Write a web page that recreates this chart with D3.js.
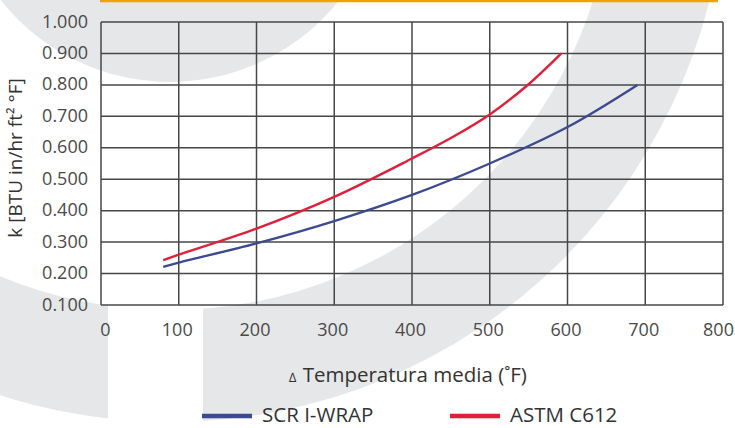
<!DOCTYPE html>
<meta charset="utf-8">
<head>
<style>
  body { margin: 0; background: #fff; }
  svg { display: block; font-family: "Open Sans", "Noto Sans", sans-serif; }
</style>
</head>
<body>
  <script src="https://d3js.org/d3.v7.min.js"></script>

  <script>
    // values
    var xTicks = [0, 100, 200, 300, 400, 500, 600, 700, 800];
    var yTicks = [0.1, 0.2, 0.3, 0.4, 0.5, 0.6, 0.7, 0.8, 0.9, 1.0];

    var scrTemp = [80, 100, 200, 300, 400, 500, 600, 690];
    var scrK    = [0.221, 0.235, 0.296, 0.367, 0.450, 0.550, 0.666, 0.800];

    var astmTemp = [80, 100, 200, 300, 400, 450, 500, 550, 592];
    var astmK    = [0.243, 0.260, 0.343, 0.444, 0.566, 0.631, 0.706, 0.802, 0.900];

    var seriesNames = ["SCR I-WRAP", "ASTM C612"];
    var seriesColors = ["#3d4990", "#e01f3a"];

    var width = 735,
      height = 428;

    var svg = d3.select("body")
      .append("svg")
      .attr("width", width)
      .attr("height", height);

    // decorative background ring (logo watermark)
    var bg = svg.append("g").attr("class", "background");
    var ringCenter = [170, -134];

    bg.append("path")
      .attr("transform", "translate(" + ringCenter + ")")
      .attr("d", d3.arc()({ innerRadius: 0, outerRadius: 216, startAngle: 0, endAngle: 2 * Math.PI }))
      .style("fill", "#e6e7e9");

    bg.append("path")
      .attr("transform", "translate(" + ringCenter + ")")
      .attr("d", d3.arc()({ innerRadius: 444, outerRadius: 556, startAngle: 0, endAngle: 2 * Math.PI }))
      .style("fill", "#e6e7e9");

    // white strip under the chart
    bg.append("rect")
      .attr("x", 108).attr("y", 306)
      .attr("width", 95).attr("height", height - 306)
      .style("fill", "#fff");

    // orange top rule
    svg.append("line")
      .attr("x1", 100).attr("x2", 718)
      .attr("y1", 1).attr("y2", 1)
      .style("stroke", "#f0a202")
      .style("stroke-width", 2.5);

    var x = d3.scaleLinear().domain([0, 800]).range([101, 723]);
    var y = d3.scaleLinear().domain([0.1, 1.0]).range([305, 22]);

    var grid = svg.append("g").attr("class", "grid")
      .style("stroke", "#474747")
      .style("stroke-width", 1.5);

    grid.selectAll("line.v")
      .data(xTicks)
      .enter().append("line")
      .attr("class", "v")
      .attr("x1", function (d) { return x(d); })
      .attr("x2", function (d) { return x(d); })
      .attr("y1", y(1.0))
      .attr("y2", y(0.1));

    grid.selectAll("line.h")
      .data(yTicks)
      .enter().append("line")
      .attr("class", "h")
      .attr("x1", x(0))
      .attr("x2", x(800))
      .attr("y1", function (d) { return y(d); })
      .attr("y2", function (d) { return y(d); });

    // axes (labels only, lines come from the grid)
    var yAxis = svg.append("g")
      .attr("transform", "translate(" + (x(0) - 13) + ",0)")
      .call(d3.axisLeft(y).tickValues(yTicks).tickFormat(d3.format(".3f")).tickSize(0).tickPadding(0));

    var xAxis = svg.append("g")
      .attr("transform", "translate(0," + (y(0.1) + 18) + ")")
      .call(d3.axisBottom(x).tickValues(xTicks).tickSize(0).tickPadding(0));

    svg.selectAll(".domain").remove();
    svg.selectAll(".tick text")
      .style("font-family", "'Open Sans', 'Noto Sans', sans-serif")
      .style("font-size", "18px")
      .style("fill", "#4a4a4a");
    yAxis.selectAll(".tick text").attr("dy", "0.28em");
    xAxis.selectAll(".tick text")
      .attr("dy", "0.71em")
      .attr("dx", function (d, i) { return i === 0 ? 4 : (i === xTicks.length - 1 ? -5 : -2); });

    // axis titles
    svg.append("text")
      .attr("transform", "translate(22,158) rotate(-90)")
      .attr("text-anchor", "middle")
      .style("font-size", "19px")
      .style("fill", "#333")
      .text("k [BTU in/hr ft² °F]");

    var xt = svg.append("text")
      .attr("x", 408)
      .attr("y", 382)
      .attr("text-anchor", "middle")
      .style("font-size", "20.5px")
      .style("fill", "#333");
    xt.append("tspan").style("font-size", "13px").text("∆");
    xt.append("tspan").attr("dx", 6).text("Temperatura media (˚F)");

    // curves
    var line = d3.line()
      .x(function (d) { return x(d[0]); })
      .y(function (d) { return y(d[1]); })
      .curve(d3.curveCatmullRom.alpha(0.5));

    var series = [d3.zip(scrTemp, scrK), d3.zip(astmTemp, astmK)];

    svg.append("g")
      .attr("class", "curves")
      .selectAll("path")
      .data(series)
      .enter().append("path")
      .attr("d", line)
      .style("fill", "none")
      .style("stroke", function (d, i) { return seriesColors[i]; })
      .style("stroke-width", 2.4);

    // legend
    var legend = svg.append("g")
      .selectAll("g")
      .data(seriesNames)
      .enter().append("g")
      .attr("transform", function (d, i) { return "translate(" + (202 + i * 248) + ",416)"; });

    legend.append("line")
      .attr("x1", 0).attr("x2", 50)
      .style("stroke", function (d, i) { return seriesColors[i]; })
      .style("stroke-width", 4.5);

    legend.append("text")
      .attr("x", 60)
      .attr("y", 6)
      .style("font-size", "20.5px")
      .style("fill", "#333")
      .text(function (d) { return d; });
  </script>

</body>

</html>
